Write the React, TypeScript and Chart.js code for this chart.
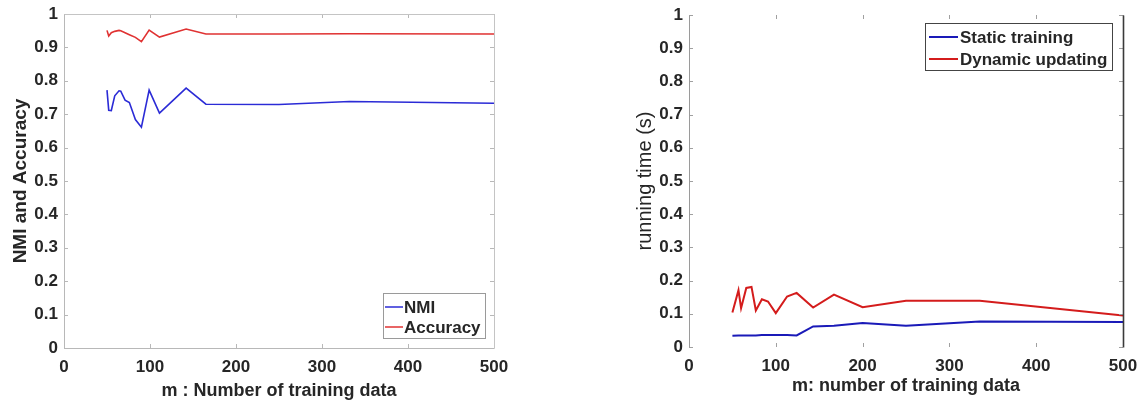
import React, { useEffect, useRef } from "react";
import { Chart, registerables } from "chart.js";

Chart.register(...registerables);

const FONT = '"Liberation Sans", Arial, Helvetica, sans-serif';
const TEXT = "#262626";

// ---- tick labels ----
const xTickLabels = ["0", "100", "200", "300", "400", "500"];
const yTickLabels = ["0", "0.1", "0.2", "0.3", "0.4", "0.5", "0.6", "0.7", "0.8", "0.9", "1"];

// ---- left chart: NMI and accuracy vs m ----
const leftM = [50, 52, 55, 59, 64, 66, 71, 76, 83, 90, 99, 111, 142, 165, 250, 332, 500];
const nmiValues = [0.772, 0.712, 0.711, 0.755, 0.77, 0.769, 0.742, 0.735, 0.684, 0.661, 0.772, 0.703, 0.778, 0.73, 0.729, 0.738, 0.733];
const accuracyValues = [0.951, 0.934, 0.944, 0.948, 0.951, 0.95, 0.944, 0.938, 0.93, 0.917, 0.952, 0.931, 0.955, 0.94, 0.94, 0.941, 0.94];

// ---- right chart: running time vs m ----
const rightM = [50, 57, 60, 66, 72, 77, 84, 91, 100, 113, 124, 143, 167, 200, 250, 335, 500];
const staticTrainingValues = [0.034, 0.035, 0.035, 0.035, 0.035, 0.035, 0.036, 0.036, 0.036, 0.036, 0.035, 0.062, 0.064, 0.072, 0.064, 0.077, 0.075];
const dynamicUpdatingValues = [0.104, 0.171, 0.117, 0.178, 0.181, 0.11, 0.144, 0.137, 0.102, 0.152, 0.163, 0.119, 0.158, 0.12, 0.139, 0.139, 0.095];

const toPoints = (xs: number[], ys: number[]) => xs.map((x, i) => ({ x, y: ys[i] }));

const framePlugin = {
  id: "frame",
  afterDatasetsDraw(chart: any, _args: any, opts: any) {
    const { ctx, chartArea, scales } = chart;
    const { left, right, top, bottom } = chartArea;
    ctx.save();
    ctx.strokeStyle = opts.tickColor;
    ctx.lineWidth = 1;
    const L = opts.tickLen;
    ctx.beginPath();
    scales.x.ticks.forEach((t: any) => {
      const px = Math.round(scales.x.getPixelForValue(t.value)) + 0.5;
      ctx.moveTo(px, bottom);
      ctx.lineTo(px, bottom - L);
      ctx.moveTo(px, top);
      ctx.lineTo(px, top + L);
    });
    scales.y.ticks.forEach((t: any) => {
      const py = Math.round(scales.y.getPixelForValue(t.value)) + 0.5;
      ctx.moveTo(left, py);
      ctx.lineTo(left + L, py);
      ctx.moveTo(right, py);
      ctx.lineTo(right - L, py);
    });
    ctx.stroke();
    (opts.sides || []).forEach((s: any) => {
      ctx.strokeStyle = s.color;
      ctx.lineWidth = s.width;
      ctx.beginPath();
      const l = Math.round(left) + 0.5;
      const r = Math.round(right) + 0.5;
      const t = Math.round(top) + 0.5;
      const b = Math.round(bottom) + 0.5;
      if (s.side === "left") { ctx.moveTo(l, t); ctx.lineTo(l, b); }
      if (s.side === "right") { ctx.moveTo(r, t); ctx.lineTo(r, b); }
      if (s.side === "top") { ctx.moveTo(l, t); ctx.lineTo(r, t); }
      if (s.side === "bottom") { ctx.moveTo(l, b); ctx.lineTo(r, b); }
      ctx.stroke();
    });
    ctx.restore();
  },
};

const boxLegendPlugin = {
  id: "boxLegend",
  afterDraw(chart: any, _args: any, opts: any) {
    const { ctx } = chart;
    ctx.save();
    ctx.fillStyle = "#ffffff";
    ctx.fillRect(opts.x, opts.y, opts.w, opts.h);
    ctx.strokeStyle = opts.borderColor;
    ctx.lineWidth = 1;
    ctx.strokeRect(opts.x + 0.5, opts.y + 0.5, opts.w, opts.h);
    ctx.font = `bold ${opts.fontSize}px ${FONT}`;
    ctx.textBaseline = "middle";
    ctx.textAlign = "left";
    chart.data.datasets.forEach((ds: any, i: number) => {
      const cy = opts.rowY[i];
      ctx.strokeStyle = ds.borderColor;
      ctx.lineWidth = opts.lineWidth;
      ctx.beginPath();
      ctx.moveTo(opts.lineX0, cy);
      ctx.lineTo(opts.lineX1, cy);
      ctx.stroke();
      ctx.fillStyle = TEXT;
      ctx.fillText(ds.label, opts.textX, cy + 1);
    });
    ctx.restore();
  },
};

function makeConfig(p: any): any {
  return {
    type: "line",
    data: {
      datasets: p.datasets.map((d: any) => ({
        label: d.label,
        data: d.data,
        borderColor: d.color,
        backgroundColor: d.color,
        borderWidth: p.lineWidth,
        pointRadius: 0,
        tension: 0,
        fill: false,
      })),
    },
    options: {
      animation: false,
      responsive: false,
      devicePixelRatio: 1,
      events: [],
      layout: { padding: { left: 0, right: p.padRight, top: p.padTop, bottom: 0 } },
      plugins: {
        legend: { display: false },
        tooltip: { enabled: false },
        frame: p.frame,
        boxLegend: p.legend,
      },
      scales: {
        x: {
          type: "linear",
          min: 0,
          max: 500,
          afterFit: (s: any) => {
            s.height = p.xAxisHeight;
            s.paddingLeft = 0;
            s.paddingRight = 0;
          },
          grid: { display: false, drawTicks: false },
          border: { display: false },
          ticks: {
            stepSize: 100,
            padding: 9,
            color: TEXT,
            font: { family: FONT, size: 17, weight: "bold" },
            maxRotation: 0,
            callback: (v: number) => xTickLabels[Math.round(v / 100)],
          },
          title: {
            display: true,
            text: p.xTitle,
            color: TEXT,
            font: { family: FONT, size: 18, weight: "bold" },
            padding: { top: 0, bottom: p.xTitlePad },
          },
        },
        y: {
          type: "linear",
          min: 0,
          max: 1,
          afterFit: (s: any) => {
            s.width = p.yAxisWidth;
            s.paddingTop = 0;
            s.paddingBottom = 0;
          },
          grid: { display: false, drawTicks: false },
          border: { display: false },
          ticks: {
            stepSize: 0.1,
            padding: 6,
            color: TEXT,
            font: { family: FONT, size: 17, weight: "bold" },
            callback: (v: number) => yTickLabels[Math.round(v * 10)],
          },
          title: {
            display: true,
            text: p.yTitle,
            color: TEXT,
            font: { family: FONT, size: p.yTitleSize, weight: p.yTitleWeight },
            padding: { top: p.yTitlePad, bottom: 0 },
          },
        },
      },
    },
    plugins: [framePlugin, boxLegendPlugin],
  };
}

function ChartCanvas({ config, width, height, left }: any) {
  const ref = useRef<HTMLCanvasElement | null>(null);
  useEffect(() => {
    if (!ref.current) return;
    const chart = new Chart(ref.current, config);
    return () => chart.destroy();
  }, []);
  return (
    <canvas
      ref={ref}
      width={width}
      height={height}
      style={{ position: "absolute", left, top: 0, width, height }}
    />
  );
}

export default function App() {
  const leftConfig = makeConfig({
    datasets: [
      { label: "NMI", data: toPoints(leftM, nmiValues), color: "#2b2bd6" },
      { label: "Accuracy", data: toPoints(leftM, accuracyValues), color: "#e03232" },
    ],
    lineWidth: 1.6,
    padRight: 76,
    padTop: 14,
    xAxisHeight: 54,
    yAxisWidth: 64,
    xTitle: "m : Number of training data",
    xTitlePad: 0,
    yTitle: "NMI and Accuracy",
    yTitleSize: 19,
    yTitleWeight: "bold",
    yTitlePad: 9,
    frame: {
      tickColor: "#b8b8b8",
      tickLen: 4,
      sides: [
        { side: "left", color: "#b8b8b8", width: 1 },
        { side: "bottom", color: "#b8b8b8", width: 1 },
        { side: "top", color: "#c4c4c4", width: 1 },
        { side: "right", color: "#c4c4c4", width: 1 },
      ],
    },
    legend: {
      x: 383, y: 293, w: 102, h: 45,
      borderColor: "#9a9a9a",
      fontSize: 17,
      lineWidth: 1.5,
      lineX0: 385, lineX1: 403, textX: 404,
      rowY: [307, 327],
    },
  });

  const rightConfig = makeConfig({
    datasets: [
      { label: "Static training", data: toPoints(rightM, staticTrainingValues), color: "#1a1ab8" },
      { label: "Dynamic updating", data: toPoints(rightM, dynamicUpdatingValues), color: "#d41c1c" },
    ],
    lineWidth: 2,
    padRight: 17,
    padTop: 15,
    xAxisHeight: 55,
    yAxisWidth: 119,
    xTitle: "m: number of training data",
    xTitlePad: 5,
    yTitle: "running time (s)",
    yTitleSize: 20,
    yTitleWeight: "normal",
    yTitlePad: 63,
    frame: {
      tickColor: "#a0a0a0",
      tickLen: 4,
      sides: [
        { side: "left", color: "#9a9a9a", width: 1 },
        { side: "right", color: "#3a3a3a", width: 1.6 },
      ],
    },
    legend: {
      x: 355, y: 23, w: 187, h: 47,
      borderColor: "#444444",
      fontSize: 17,
      lineWidth: 2,
      lineX0: 359, lineX1: 388, textX: 390,
      rowY: [37, 59],
    },
  });

  return (
    <div style={{ position: "fixed", left: 0, top: 0, width: 1140, height: 402, background: "#ffffff" }}>
      <ChartCanvas config={leftConfig} width={570} height={402} left={0} />
      <ChartCanvas config={rightConfig} width={570} height={402} left={570} />
    </div>
  );
}
